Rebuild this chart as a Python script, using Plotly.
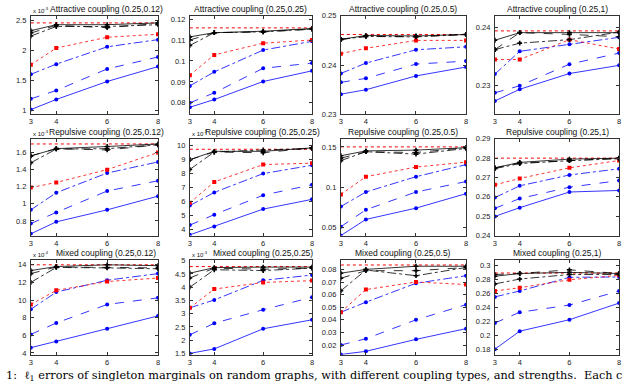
import plotly.graph_objects as go

# x values shared by all panels
X = [3, 4, 6, 8]

TITLES = [
    "Attractive coupling (0.25,0.12)", "Attractive coupling (0.25,0.25)",
    "Attractive coupling (0.25,0.5)", "Attractive coupling (0.25,1)",
    "Repulsive coupling (0.25,0.12)", "Repulsive coupling (0.25,0.25)",
    "Repulsive coupling (0.25,0.5)", "Repulsive coupling (0.25,1)",
    "Mixed coupling (0.25,0.12)", "Mixed coupling (0.25,0.25)",
    "Mixed coupling (0.25,0.5)", "Mixed coupling (0.25,1)",
]
EXPONENTS = ["-3", None, None, None, "-3", "-3", None, None, "-4", "-3", None, None]

# horizontal red dotted reference line
RED_FLAT = [2.46, 0.1158, 0.2462, 0.2394, 1.70, 9.75, 0.150, 0.280, 14.0, 4.78, 0.0835, 0.2897]

BLACK_SOLID = [
    [2.33, 2.43, 2.43, 2.46], [0.1115, 0.1135, 0.1142, 0.1155],
    [0.2452, 0.2460, 0.2459, 0.2462], [0.2378, 0.2391, 0.2391, 0.2391],
    [1.56, 1.645, 1.67, 1.70], [9.0, 9.6, 9.6, 9.85],
    [0.139, 0.145, 0.146, 0.149], [0.275, 0.2778, 0.2795, 0.280],
    [13.35, 13.8, 14.0, 13.9], [4.53, 4.74, 4.76, 4.76],
    [0.077, 0.080, 0.0825, 0.0825], [0.285, 0.289, 0.2906, 0.289],
]
BLACK_DASH = [
    [2.29, 2.42, 2.38, 2.45], [0.110, 0.1135, 0.1139, 0.1152],
    [0.2452, 0.2458, 0.2458, 0.2462], [0.2362, 0.2391, 0.2388, 0.2384],
    [1.56, 1.645, 1.63, 1.69], [9.0, 9.55, 9.5, 9.85],
    [0.136, 0.144, 0.143, 0.149], [0.275, 0.2775, 0.2787, 0.280],
    [13.0, 13.75, 13.7, 13.65], [4.35, 4.72, 4.68, 4.72],
    [0.073, 0.079, 0.079, 0.0815], [0.2875, 0.289, 0.2943, 0.289],
]
BLACK_DASHDOT = [
    [2.24, 2.40, 2.40, 2.43], [0.1074, 0.1135, 0.1139, 0.1152],
    [0.2452, 0.2458, 0.2457, 0.2462], [0.2362, 0.2373, 0.2379, 0.2392],
    [1.48, 1.64, 1.645, 1.69], [8.3, 9.55, 9.7, 9.8],
    [0.133, 0.144, 0.141, 0.148], [0.2746, 0.2772, 0.2787, 0.2797],
    [12.0, 13.7, 13.65, 13.55], [4.0, 4.66, 4.63, 4.72],
    [0.063, 0.0795, 0.075, 0.0815], [0.274, 0.281, 0.2875, 0.2875],
]
RED_SQUARES = [
    [1.76, 2.04, 2.22, 2.27], [0.0932, 0.1029, 0.1085, 0.110],
    [0.2423, 0.2434, 0.2450, 0.2450], [0.2345, 0.2345, 0.2379, 0.2363],
    [1.19, 1.25, 1.40, 1.60], [5.9, 7.4, 8.65, 8.75],
    [0.091, 0.113, 0.125, 0.131], [0.2662, 0.2695, 0.275, 0.2788],
    [9.5, 11.1, 12.1, 12.5], [3.22, 3.93, 4.18, 4.25],
    [0.046, 0.064, 0.070, 0.068], [0.2638, 0.2685, 0.280, 0.2863],
]
BLUE_DASHDOT = [
    [1.60, 1.77, 2.06, 2.18], [0.0881, 0.0948, 0.1052, 0.1094],
    [0.2383, 0.2404, 0.2431, 0.2437], [0.2320, 0.2359, 0.2371, 0.2383],
    [0.93, 1.13, 1.36, 1.49], [5.7, 6.65, 8.0, 8.6],
    [0.076, 0.094, 0.113, 0.128], [0.2596, 0.2657, 0.2713, 0.2745],
    [8.95, 10.9, 12.25, 13.0], [3.22, 3.52, 4.26, 4.46],
    [0.046, 0.054, 0.069, 0.075], [0.2553, 0.2638, 0.2835, 0.284],
]
BLUE_DASH = [
    [1.19, 1.33, 1.69, 1.89], [0.080, 0.0848, 0.0965, 0.099],
    [0.2365, 0.2373, 0.2402, 0.2408], [0.2288, 0.2300, 0.2337, 0.2356],
    [0.77, 0.90, 1.15, 1.27], [4.3, 5.05, 6.45, 7.2],
    [0.051, 0.072, 0.094, 0.107], [0.2541, 0.2591, 0.265, 0.2684],
    [6.1, 7.4, 9.5, 10.25], [2.2, 2.64, 3.15, 3.62],
    [0.020, 0.025, 0.040, 0.052], [0.2177, 0.2332, 0.2435, 0.2638],
]
BLUE_SOLID = [
    [1.01, 1.18, 1.48, 1.73], [0.0779, 0.0816, 0.0902, 0.0953],
    [0.2341, 0.2350, 0.2378, 0.2396], [0.2274, 0.2294, 0.2321, 0.2335],
    [0.65, 0.79, 0.93, 1.09], [3.6, 4.2, 5.45, 6.15],
    [0.040, 0.060, 0.074, 0.092], [0.2499, 0.2544, 0.2625, 0.2633],
    [4.6, 5.3, 6.75, 8.2], [1.5, 1.67, 2.43, 2.77],
    [0.0125, 0.015, 0.0245, 0.033], [0.180, 0.2059, 0.2224, 0.2464],
]

Y_TICKS = [
    [1, 1.5, 2, 2.5], [0.08, 0.09, 0.1, 0.11, 0.12], [0.23, 0.24, 0.25], [0.23, 0.24],
    [0.8, 1, 1.2, 1.4, 1.6], [4, 5, 6, 7, 8, 9, 10], [0.05, 0.1, 0.15],
    [0.24, 0.25, 0.26, 0.27, 0.28, 0.29],
    [4, 6, 8, 10, 12, 14], [1.5, 2, 2.5, 3, 3.5, 4, 4.5, 5],
    [0.02, 0.03, 0.04, 0.05, 0.06, 0.07, 0.08], [0.18, 0.2, 0.22, 0.24, 0.26, 0.28, 0.3],
]
Y_RANGES = [
    [0.93, 2.58], [0.0745, 0.1216], [0.23, 0.25], [0.2251, 0.2420],
    [0.63, 1.76], [3.55, 10.5], [0.04, 0.16], [0.24, 0.29],
    [3.8, 14.55], [1.45, 5.03], [0.0123, 0.0875], [0.172, 0.3085],
]

CAPTION = ("1:  \u2113<sub>1</sub> errors of singleton marginals on random graphs, "
           "with different coupling types, and strengths.  Each c")

W, H = 640, 390
COL_PX = [(29, 157), (189, 312), (341, 467), (496, 621)]
ROW_PX = [(12, 113), (138, 237), (262, 359)]

BLUE = "#0000ff"
RED = "#ff0000"
BLACK = "#000000"

styles = [
    (BLUE_SOLID, BLUE, "solid", "circle", 4),
    (BLUE_DASH, BLUE, "dash", "circle", 4),
    (BLUE_DASHDOT, BLUE, "dashdot", "circle", 4),
    (RED_SQUARES, RED, "dot", "square", 4),
    (BLACK_DASHDOT, BLACK, "dashdot", "cross", 4),
    (BLACK_DASH, BLACK, "dash", "cross", 4),
    (BLACK_SOLID, BLACK, "solid", "cross", 4),
]

fig = go.Figure()
layout = {}
annotations = []
font = "Liberation Sans, Arial, sans-serif"

for i in range(12):
    r, c = divmod(i, 4)
    sfx = "" if i == 0 else str(i + 1)
    xref, yref = "x" + sfx, "y" + sfx

    fig.add_trace(go.Scatter(
        x=[X[0], X[-1]], y=[RED_FLAT[i], RED_FLAT[i]], xaxis=xref, yaxis=yref,
        mode="lines", line=dict(color=RED, width=1, dash="dot"),
        showlegend=False, hoverinfo="skip"))
    for data, col, dash, sym, size in styles:
        fig.add_trace(go.Scatter(
            x=X, y=data[i], xaxis=xref, yaxis=yref, mode="lines+markers",
            line=dict(color=col, width=0.8, dash=dash),
            marker=dict(color=col, symbol=sym, size=size),
            showlegend=False, hoverinfo="skip"))

    x0, x1 = COL_PX[c]
    y0, y1 = ROW_PX[r]
    xd = [x0 / W, x1 / W]
    yd = [1 - y1 / H, 1 - y0 / H]

    axis_common = dict(
        showline=True, linecolor="#333333", linewidth=1, mirror="ticks",
        ticks="inside", ticklen=3, tickcolor="#333333", showgrid=False,
        zeroline=False, tickfont=dict(size=7.5, color="#222222", family=font),
    )
    layout["xaxis" + sfx] = dict(
        domain=xd, range=[3, 8], tickvals=X, anchor=yref, **axis_common)
    layout["yaxis" + sfx] = dict(
        domain=yd, range=Y_RANGES[i], tickvals=Y_TICKS[i], anchor=xref,
        ticklabelstandoff=2, **axis_common)

    # titles sit a bit to the right when the exponent label is there
    annotations.append(dict(
        text=TITLES[i], x=(xd[0] + xd[1]) / 2, y=yd[1], xref="paper", yref="paper",
        xanchor="center", yanchor="bottom", xshift=12 if EXPONENTS[i] else 0,
        showarrow=False, font=dict(size=8.5, color="#111111", family=font)))
    if EXPONENTS[i]:
        annotations.append(dict(
            text="x 10<sup>%s</sup>" % EXPONENTS[i], x=xd[0], y=yd[1],
            xref="paper", yref="paper", xanchor="left", yanchor="bottom",
            showarrow=False, font=dict(size=6, color="#111111", family=font)))

annotations.append(dict(
    text=CAPTION, x=2 / W, y=1 - 381 / H, xref="paper", yref="paper", xanchor="left",
    yanchor="middle", showarrow=False,
    font=dict(size=11.3, color="#000000", family="DejaVu Serif, serif")))

fig.update_layout(
    width=W, height=H, margin=dict(l=0, r=0, t=0, b=0),
    paper_bgcolor="white", plot_bgcolor="white",
    annotations=annotations, **layout)

# page body has a default margin; drop it so the figure fills the window
fig.write_html("out.html", config={"displayModeBar": False},
               post_script="document.body.style.margin='0px';")
